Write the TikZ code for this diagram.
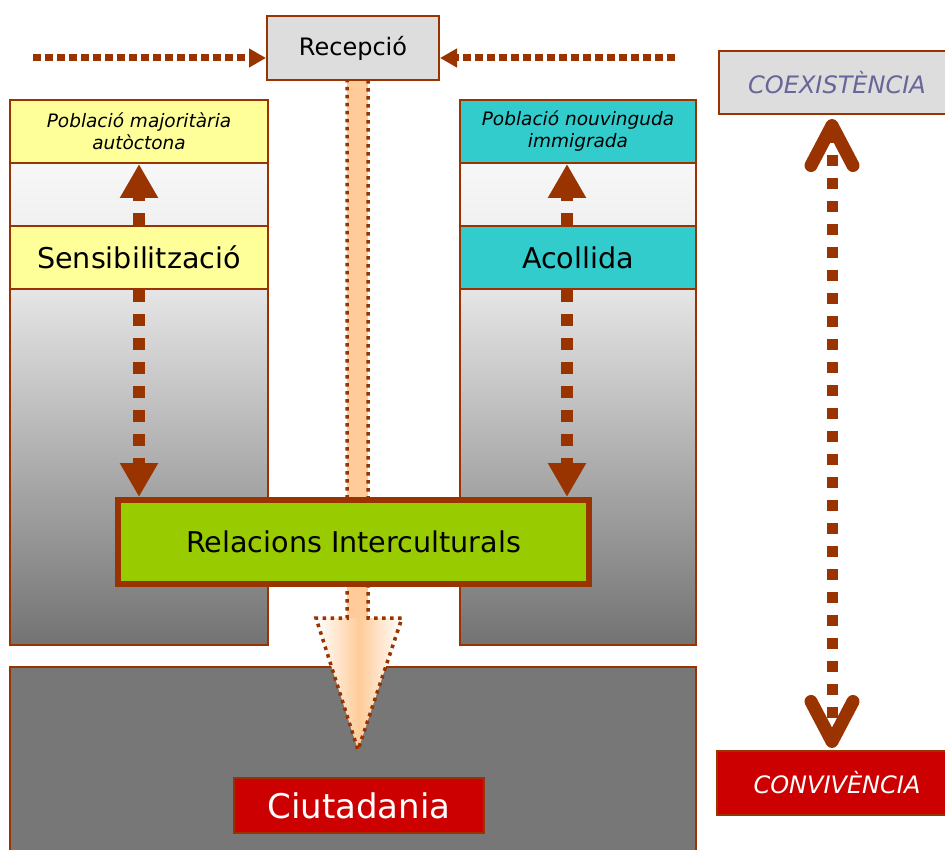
\documentclass[tikz,border=0pt]{standalone}
\usepackage{fontspec}
\setmainfont{DejaVu Sans}
\usepackage{tikz}
\usetikzlibrary{arrows.meta}
\definecolor{brn}{HTML}{993300}
\definecolor{pale}{HTML}{FFFF99}
\definecolor{tealbox}{HTML}{33CCCC}
\definecolor{limebox}{HTML}{99CC00}
\definecolor{redbox}{HTML}{CC0000}
\definecolor{lgray}{HTML}{DDDDDD}
\definecolor{dgray}{HTML}{777777}
\definecolor{peach}{HTML}{FFCC99}
\definecolor{slate}{HTML}{666699}
\newcommand{\bigtxt}{\fontsize{28.6pt}{34pt}\selectfont}
\newcommand{\midtxt}{\fontsize{24pt}{29pt}\selectfont}
\newcommand{\smltxt}{\fontsize{18.5pt}{22pt}\selectfont\itshape}
\newcommand{\hugetxt}{\fontsize{34pt}{40pt}\selectfont}

\begin{document}
\begin{tikzpicture}[x=1pt,y=-1pt,
        box/.style={draw=brn, line width=2pt, inner sep=0pt, align=center},
        coldash/.style={brn, line width=12pt, dash pattern=on 12pt off 12pt, -{Triangle[length=34pt,width=36pt]}},
        topdash/.style={brn, line width=7pt, dash pattern=on 8pt off 4pt, -{Triangle[length=17pt,width=18pt]}},
        sidedash/.style={brn, line width=11pt, dash pattern=on 11pt off 12pt,
            {Straight Barb[length=40pt,width=42pt,line width=13pt,round]}-{Straight Barb[length=40pt,width=42pt,line width=13pt,round]}}]
        \useasboundingbox (0,0) rectangle (945,850);
        %%Columns
        \shade[top color=black!3, bottom color=black!6] (10,163) rectangle (268,226);
        \shade[top color=black!10, bottom color=black!55] (10,289) rectangle (268,645);
        \draw[brn, line width=2pt] (10,100) rectangle (268,645);
        \shade[top color=black!3, bottom color=black!6] (460,163) rectangle (696,226);
        \shade[top color=black!10, bottom color=black!55] (460,289) rectangle (696,645);
        \draw[brn, line width=2pt] (460,100) rectangle (696,645);
        %%Base
        \draw[brn, line width=2pt, fill=dgray] (10,667) rectangle (696,870);
        %%Reception arrow
        \fill[peach] (347,79) rectangle (368,618);
        \shade[left color=white, right color=white, middle color=peach] (316,618) -- (402,618) -- (358,750) -- cycle;
        \draw[brn, line width=3.5pt, dash pattern=on 3.5pt off 4.5pt]
        (347,79) -- (347,618) -- (316,618) -- (358,750) -- (402,618) -- (368,618) -- (368,79) -- cycle;
        %%Boxes
        \node[box, fill=lgray, minimum width=172pt, minimum height=64pt, font=\midtxt] (recep) at (353,48) {Recepció};
        \node[box, fill=pale, minimum width=258pt, minimum height=63pt, font=\smltxt] (pmaj) at (139,131.5) {Població majoritària\\autòctona};
        \node[box, fill=pale, line width=2.5pt, minimum width=258pt, minimum height=63pt, font=\bigtxt] (sens) at (139,257.5) {Sensibilització};
        \node[box, fill=tealbox, minimum width=236pt, minimum height=63pt, font=\smltxt] (pnou) at (578,131.5) {Població nouvinguda\\immigrada};
        \node[box, fill=tealbox, line width=2.5pt, minimum width=236pt, minimum height=63pt, font=\bigtxt] (acoll) at (578,257.5) {Acollida};
        \node[box, fill=limebox, line width=6pt, minimum width=471pt, minimum height=84pt, font=\bigtxt] (rel) at (353.5,542) {Relacions Interculturals};
        \node[box, fill=redbox, text=white, minimum width=250pt, minimum height=55pt, font=\hugetxt] (ciut) at (359,805.5) {Ciutadania};
        \node[box, fill=lgray, text=slate, minimum width=236pt, minimum height=63pt, font=\fontsize{24pt}{29pt}\selectfont\itshape] (coex) at (837,82.5) {COEXISTÈNCIA};
        \node[box, fill=redbox, text=white, minimum width=240pt, minimum height=64pt, font=\fontsize{24pt}{29pt}\selectfont\itshape] (conv) at (837,783) {CONVIVÈNCIA};
        %%Arrows
        \coordinate (lin) at (33,58);
        \coordinate (rin) at (675,58);
        \draw[topdash] (lin) -- (lin -| recep.west);
        \draw[topdash] (rin) -- (rin -| recep.east);
        \draw[coldash] (sens.north) -- (pmaj.south);
        \draw[coldash] (sens.south) -- (sens.south |- rel.north);
        \coordinate (aup) at ([xshift=-11pt]acoll.north);
        \coordinate (adn) at ([xshift=-11pt]acoll.south);
        \draw[coldash] (aup) -- (aup |- pnou.south);
        \draw[coldash] (adn) -- (adn |- rel.north);
        \draw[sidedash] ([xshift=-5pt,yshift=-4pt]coex.south) -- ([xshift=-5pt,yshift=2pt]conv.north);
\end{tikzpicture}
\end{document}
